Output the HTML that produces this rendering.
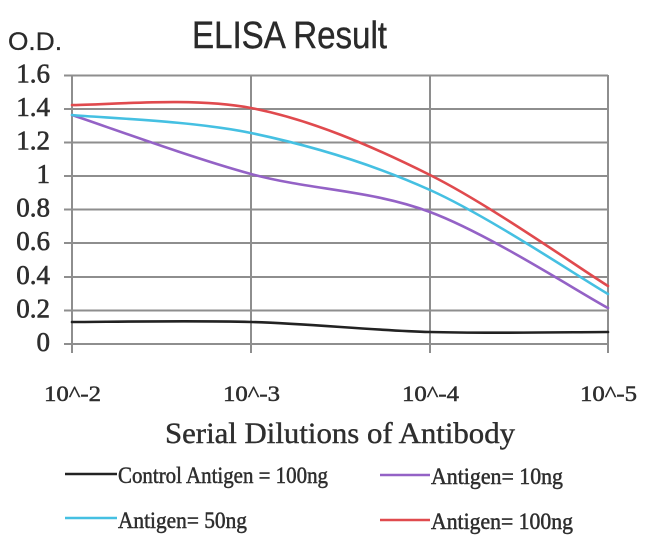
<!DOCTYPE html>
<html>
<head>
<meta charset="utf-8">
<style>
html,body{margin:0;padding:0;background:#fff;}
svg{display:block;}
</style>
</head>
<body>
<svg width="650" height="541" viewBox="0 0 650 541" xmlns="http://www.w3.org/2000/svg">
<rect x="0" y="0" width="650" height="541" fill="#fff"/>
<!-- title -->
<text x="192" y="48" font-family="Liberation Sans, sans-serif" font-size="38" fill="#2a2a2a" stroke="#2a2a2a" stroke-width="0.4" textLength="195" lengthAdjust="spacingAndGlyphs">ELISA Result</text>
<text x="8" y="50" font-family="Liberation Sans, sans-serif" font-size="25" fill="#2a2a2a" stroke="#2a2a2a" stroke-width="0.3" textLength="54" lengthAdjust="spacingAndGlyphs">O.D.</text>

<!-- horizontal gridlines -->
<g stroke="#8e8e8e" stroke-width="2" fill="none">
<line x1="64" y1="75.5" x2="608" y2="75.5"/>
<line x1="64" y1="109" x2="608" y2="109"/>
<line x1="64" y1="142.5" x2="608" y2="142.5"/>
<line x1="64" y1="176" x2="608" y2="176"/>
<line x1="64" y1="209.5" x2="608" y2="209.5"/>
<line x1="64" y1="243" x2="608" y2="243"/>
<line x1="64" y1="277" x2="608" y2="277"/>
<line x1="64" y1="310.5" x2="608" y2="310.5"/>
<line x1="64" y1="344" x2="608" y2="344"/>
<!-- vertical gridlines -->
<line x1="72" y1="75" x2="72" y2="353"/>
<line x1="251" y1="75" x2="251" y2="353"/>
<line x1="430" y1="75" x2="430" y2="353"/>
<line x1="608" y1="75" x2="608" y2="353"/>
</g>

<!-- y labels -->
<g font-family="Liberation Serif, serif" font-size="27" fill="#2e2e2e" stroke="#2e2e2e" stroke-width="0.6" text-anchor="end">
<text x="50" y="82.5">1.6</text>
<text x="50" y="116">1.4</text>
<text x="50" y="149.5">1.2</text>
<text x="50" y="183">1</text>
<text x="50" y="216.5">0.8</text>
<text x="50" y="250">0.6</text>
<text x="50" y="284">0.4</text>
<text x="50" y="317.5">0.2</text>
<text x="50" y="351">0</text>
</g>

<!-- x labels -->
<g font-family="Liberation Serif, serif" font-size="22" fill="#2e2e2e" stroke="#2e2e2e" stroke-width="0.5">
<text x="44" y="401" textLength="57" lengthAdjust="spacingAndGlyphs">10^-2</text>
<text x="223" y="401" textLength="57" lengthAdjust="spacingAndGlyphs">10^-3</text>
<text x="402" y="401" textLength="57" lengthAdjust="spacingAndGlyphs">10^-4</text>
<text x="580" y="401" textLength="57" lengthAdjust="spacingAndGlyphs">10^-5</text>
</g>
<text x="165" y="443" font-family="Liberation Serif, serif" font-size="30" fill="#2e2e2e" stroke="#2e2e2e" stroke-width="0.4" textLength="350" lengthAdjust="spacingAndGlyphs">Serial Dilutions of Antibody</text>

<!-- series -->
<g fill="none" stroke-width="2.6" stroke-linecap="round">
<path stroke="#222" d="M72,322 C101.8,322 191.3,320.3 251,322 C310.7,323.7 370.5,330.3 430,332 C489.5,333.7 578.3,332 608,332"/>
<path stroke="#9462c6" d="M72,115 C101.8,124.8 191.3,157.8 251,174 C310.7,190.2 370.5,189.7 430,212 C489.5,234.3 578.3,292 608,308"/>
<path stroke="#45c0e2" d="M72,115 C101.8,118 191.3,120.5 251,133 C310.7,145.5 370.5,163.2 430,190 C489.5,216.8 578.3,276.7 608,294"/>
<path stroke="#e04a4e" d="M72,105 C101.8,105.5 191.3,96.3 251,108 C310.7,119.7 370.5,145.3 430,175 C489.5,204.7 578.3,267.5 608,286"/>
</g>

<!-- legend -->
<g stroke-width="2.6">
<line x1="65" y1="474" x2="117" y2="474" stroke="#222"/>
<line x1="65" y1="518" x2="117" y2="518" stroke="#45c0e2"/>
<line x1="380" y1="475" x2="430" y2="475" stroke="#9462c6"/>
<line x1="380" y1="520" x2="430" y2="520" stroke="#e04a4e"/>
</g>
<g font-family="Liberation Serif, serif" font-size="23" fill="#2e2e2e" stroke="#2e2e2e" stroke-width="0.5">
<text x="118" y="483" textLength="210" lengthAdjust="spacingAndGlyphs">Control Antigen = 100ng</text>
<text x="118" y="528" textLength="129" lengthAdjust="spacingAndGlyphs">Antigen= 50ng</text>
<text x="431" y="484" textLength="132" lengthAdjust="spacingAndGlyphs">Antigen= 10ng</text>
<text x="431" y="529" textLength="142" lengthAdjust="spacingAndGlyphs">Antigen= 100ng</text>
</g>
</svg>
</body>
</html>
